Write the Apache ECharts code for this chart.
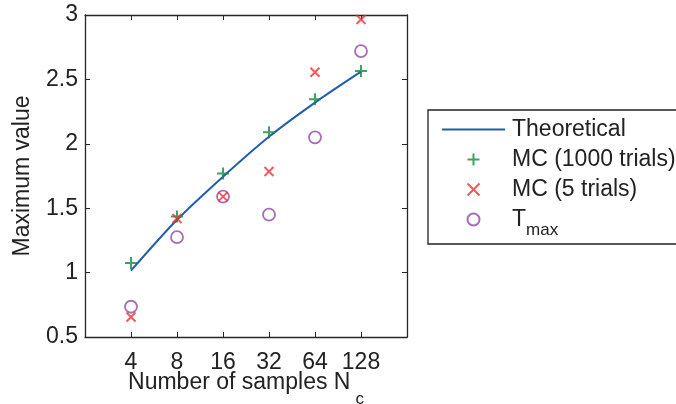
<!DOCTYPE html>
<html><head><meta charset="utf-8">
<script src="https://cdn.jsdelivr.net/npm/echarts@6/dist/echarts.min.js"></script>
<style>html,body{margin:0;padding:0;background:#fff}#c{width:676px;height:404px}</style>
</head><body><div id="c"></div>
<script>
const samples = [4, 8, 16, 32, 64, 128];
const theoretical = [1.015, 1.41, 1.745, 2.055, 2.32, 2.56];
const mc1000 = [1.075, 1.435, 1.77, 2.09, 2.345, 2.565];
const mc5 = [0.655, 1.42, 1.59, 1.785, 2.555, 2.965];
const tmax = [0.735, 1.275, 1.59, 1.45, 2.05, 2.72];
const yTicks = [0.5, 1, 1.5, 2, 2.5, 3];

const pair = (xs, ys) => xs.map((x, i) => [x, ys[i]]);
const FONT = 'Liberation Sans';
const AX = '#262626';
const chart = echarts.init(document.getElementById('c'), null, {renderer: 'canvas'});
const plusPath = 'path://M0,5L10,5M5,0L5,10';
const crossPath = 'path://M0,0L10,10M10,0L0,10';
const xBase = {
  type: 'log', logBase: 2, min: 2, max: 256, gridIndex: 0,
  nameMoveOverlap: false,
  axisLine: {show: true, lineStyle: {color: AX, width: 1.3}},
  axisTick: {show: true, inside: true, length: 5, lineStyle: {color: AX}},
  splitLine: {show: false}, minorTick: {show: false}
};
const yBase = {
  type: 'value', min: yTicks[0], max: yTicks[yTicks.length - 1], interval: 0.5,
  nameMoveOverlap: false,
  axisLine: {show: true, lineStyle: {color: AX, width: 1.3}},
  axisTick: {show: true, inside: true, length: 5, lineStyle: {color: AX}},
  splitLine: {show: false}
};
chart.setOption({
  animation: false,
  backgroundColor: '#fff',
  textStyle: {fontFamily: FONT},
  grid: {left: 85, right: 269, top: 15, bottom: 67, containLabel: false, outerBoundsMode: 'none'},
  xAxis: [
    Object.assign({}, xBase, {
      position: 'bottom',
      name: 'Number of samples N{sub|c}',
      nameLocation: 'middle', nameGap: 34,
      nameTextStyle: {fontSize: 23, color: '#222', fontFamily: FONT, lineHeight: 23,
        rich: {sub: {fontSize: 17, padding: [34, 0, 0, 5], color: '#222', fontFamily: FONT}}},
      axisLabel: {show: true, fontSize: 23, color: '#222', margin: 14, fontFamily: FONT,
        showMinLabel: false, showMaxLabel: false,
        formatter: v => {const r = Math.round(v); return samples.indexOf(r) >= 0 ? String(r) : '';}}
    }),
    Object.assign({}, xBase, {position: 'top', axisLabel: {show: false}})
  ],
  yAxis: [
    Object.assign({}, yBase, {
      position: 'left',
      name: 'Maximum value', nameLocation: 'middle', nameGap: 51, nameRotate: 90,
      nameTextStyle: {fontSize: 23, color: '#222', fontFamily: FONT},
      axisLabel: {show: true, fontSize: 23, color: '#222', margin: 7, fontFamily: FONT,
        formatter: v => String(v)}
    }),
    Object.assign({}, yBase, {position: 'right', axisLabel: {show: false}})
  ],
  legend: {
    show: true, orient: 'vertical', left: 428, top: 110,
    padding: [8, 14, 5, 14], itemGap: 7, itemWidth: 63, itemHeight: 12,
    borderColor: '#222', borderWidth: 1.3, backgroundColor: '#fff',
    textStyle: {fontSize: 23, color: '#222', fontFamily: FONT, padding: [0, 0, 0, 2],
      rich: {sub: {fontSize: 17, padding: [22, 0, 0, 0], color: '#222', fontFamily: FONT}}},
    formatter: n => n === 'Tmax' ? 'T{sub|max}' : n,
    data: [
      {name: 'Theoretical', icon: 'path://M0,0L100,0L100,3L0,3Z'},
      'MC (1000 trials)', 'MC (5 trials)', 'Tmax'
    ],
    selectedMode: false
  },
  series: [
    {name: 'Theoretical', type: 'line', data: pair(samples, theoretical), smooth: 0.3,
      showSymbol: false, symbol: 'none', lineStyle: {color: '#1f5eae', width: 2},
      itemStyle: {color: '#1f5eae'}, z: 2},
    {name: 'MC (1000 trials)', type: 'scatter', data: pair(samples, mc1000), symbol: plusPath,
      symbolSize: 12, itemStyle: {color: '#138740', borderColor: '#138740', borderWidth: 2}, z: 3},
    {name: 'MC (5 trials)', type: 'scatter', data: pair(samples, mc5), symbol: crossPath,
      symbolSize: 9, itemStyle: {color: '#f2302f', borderColor: '#f2302f', borderWidth: 2}, z: 4},
    {name: 'Tmax', type: 'scatter', data: pair(samples, tmax), symbol: 'circle',
      symbolSize: 12, itemStyle: {color: 'rgba(0,0,0,0)', borderColor: '#8d4aa8', borderWidth: 1.8}, z: 3}
  ]
});
</script></body></html>
